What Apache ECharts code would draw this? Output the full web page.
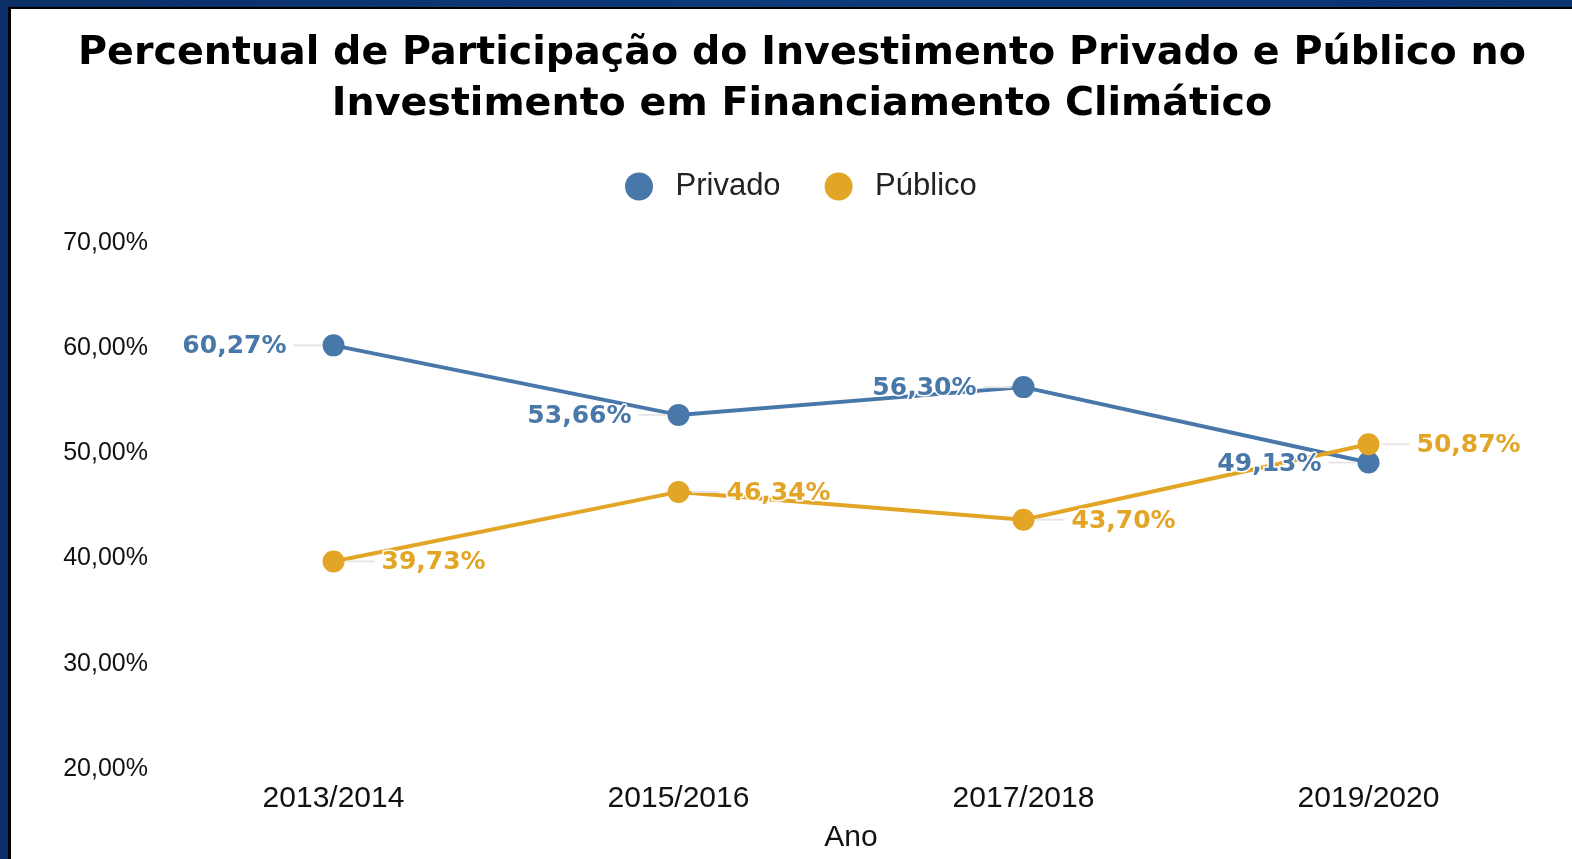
<!DOCTYPE html>
<html>
<head>
<meta charset="utf-8">
<script src="https://cdn.jsdelivr.net/npm/echarts@6/dist/echarts.min.js"></script>
<style>
  html, body { margin: 0; padding: 0; width: 1572px; height: 859px; overflow: hidden; }
  body { background: linear-gradient(90deg, #0b2f66 0%, #0d3a7a 50%, #0b3470 100%); }
  #chart {
    position: absolute; left: 8px; top: 7px;
    width: 1561px; height: 850px;
    border-left: 3px solid #000; border-top: 2px solid #000;
    background: #fff;
  }
</style>
</head>
<body>
<div id="chart"></div>
<script>
// dados
var anos = ['2013/2014', '2015/2016', '2017/2018', '2019/2020'];
var privado = [60.27, 53.66, 56.30, 49.13];
var publico = [39.73, 46.34, 43.70, 50.87];
var yMin = 20, yMax = 70, yStep = 10;

var azul = '#4878a9';
var dourado = '#e3a526';
var guia = '#e6e6e6';

function pct(v) {
    return v.toFixed(2).replace('.', ',') + '%';
}

// rotulo com a linha-guia cinza feita em rich text
function rotulo(cor, lado) {
    return {
        show: true,
        position: lado,
        distance: lado === 'left' ? 1 : 2,
        formatter: function (p) {
            return lado === 'left'
                ? '{v|' + pct(p.value) + '}{g|}{s|}'
                : '{s|}{g|}{v|' + pct(p.value) + '}';
        },
        rich: {
            v: {
                color: cor,
                fontFamily: 'DejaVu Sans',
                fontWeight: 'bold',
                fontSize: 25,
                padding: [3, 0, 0, 0],
                textBorderColor: '#fff',
                textBorderWidth: 3
            },
            g: { width: 7, height: 2 },
            s: { width: 28, height: 2, backgroundColor: guia }
        }
    };
}

var chart = echarts.init(document.getElementById('chart'));
chart.setOption({
    animation: false,
    title: {
        text: 'Percentual de Participação do Investimento Privado e Público no\nInvestimento em Financiamento Climático',
        left: 791,
        top: 14,
        textAlign: 'center',
        padding: [5, 0, 5, 0],
        textStyle: {
            fontFamily: 'DejaVu Sans',
            fontWeight: 'bold',
            fontSize: 39.6,
            lineHeight: 51,
            color: '#000'
        }
    },
    legend: {
        data: ['Privado', 'Público'],
        left: 609,
        top: 157,
        icon: 'circle',
        itemWidth: 31,
        itemHeight: 28,
        itemGap: 44,
        textStyle: {
            fontFamily: 'Liberation Sans',
            fontSize: 31,
            color: '#222',
            padding: [0, 0, 0, 16]
        }
    },
    grid: { left: 150, right: 31, top: 234, bottom: 90 },
    xAxis: {
        type: 'category',
        data: anos,
        name: 'Ano',
        nameLocation: 'middle',
        nameGap: 54,
        nameTextStyle: { fontFamily: 'Liberation Sans', fontSize: 30, color: '#111' },
        axisLine: { show: false },
        axisTick: { show: false },
        axisLabel: { margin: 15, fontFamily: 'Liberation Sans', fontSize: 30, color: '#111' }
    },
    yAxis: {
        type: 'value',
        min: yMin,
        max: yMax,
        interval: yStep,
        axisLine: { show: false },
        axisTick: { show: false },
        splitLine: { show: false },
        axisLabel: {
            margin: 13,
            fontFamily: 'Liberation Sans',
            fontSize: 25,
            color: '#111',
            formatter: function (v) { return pct(v); }
        }
    },
    series: [{
        name: 'Privado',
        type: 'line',
        data: privado,
        color: azul,
        symbol: 'circle',
        symbolSize: 22,
        lineStyle: { width: 4 },
        label: rotulo(azul, 'left')
    }, {
        name: 'Público',
        type: 'line',
        data: publico,
        color: dourado,
        symbol: 'circle',
        symbolSize: 22,
        lineStyle: { width: 4 },
        label: rotulo(dourado, 'right')
    }]
});
</script>
</body>
</html>
